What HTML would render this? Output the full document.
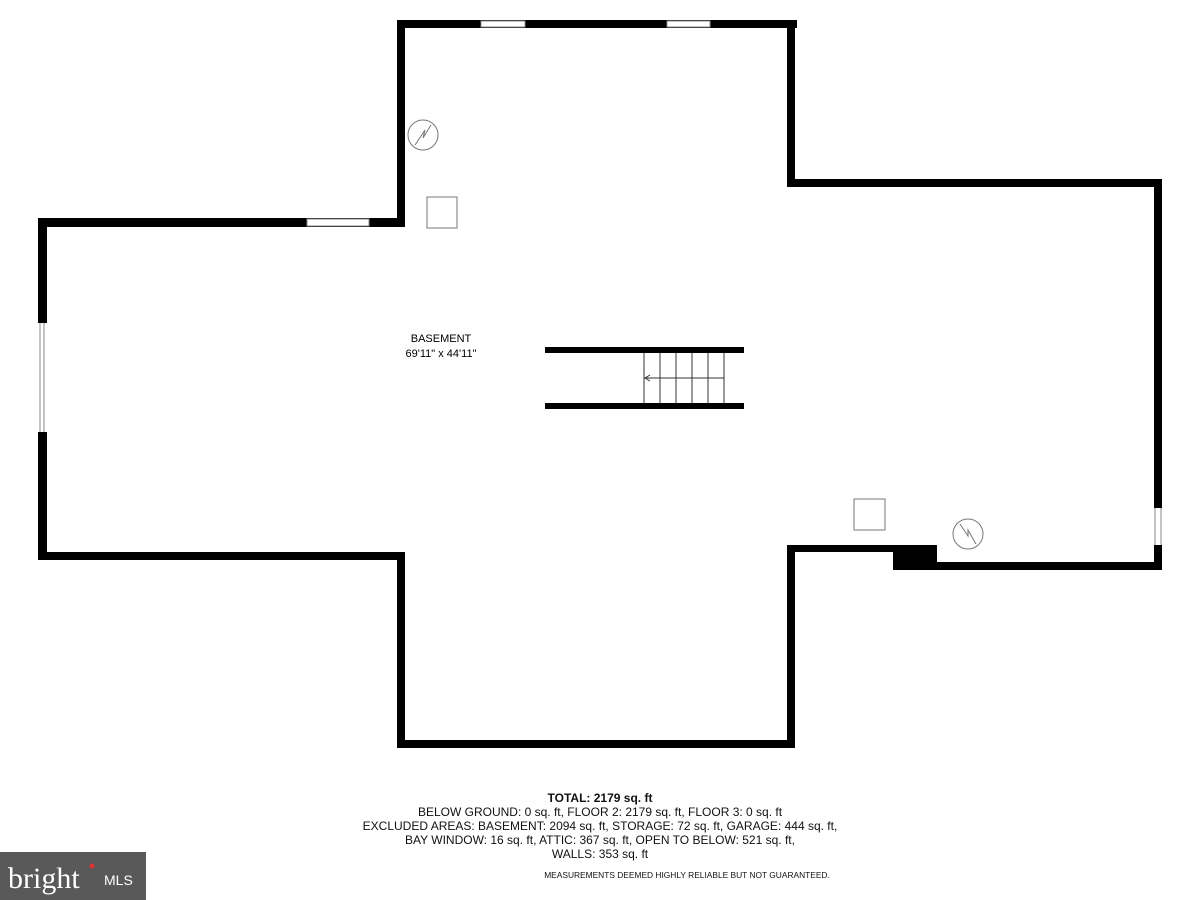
<!DOCTYPE html>
<html><head><style>body{margin:0;background:#fff}svg{display:block}</style></head><body>
<svg width="1200" height="900" xmlns="http://www.w3.org/2000/svg" font-family="Liberation Sans, sans-serif">
<rect width="1200" height="900" fill="#fff"/>
<g fill="#000">
<rect x="397" y="20" width="400" height="8"/>
<rect x="397" y="20" width="8" height="207"/>
<rect x="38" y="218" width="367" height="9"/>
<rect x="38" y="218" width="9" height="105"/>
<rect x="38" y="432" width="9" height="128"/>
<rect x="38" y="552" width="367" height="8"/>
<rect x="397" y="552" width="8" height="196"/>
<rect x="397" y="740" width="398" height="8"/>
<rect x="787" y="545" width="8" height="203"/>
<rect x="787" y="545" width="150" height="7"/>
<rect x="893" y="545" width="44" height="25"/>
<rect x="893" y="562" width="269" height="8"/>
<rect x="1154" y="179" width="8" height="329"/>
<rect x="1154" y="545" width="8" height="25"/>
<rect x="787" y="179" width="375" height="8"/>
<rect x="787" y="20" width="8" height="167"/>
<rect x="545" y="347" width="199" height="6"/>
<rect x="545" y="403" width="199" height="6"/>
</g>
<g fill="#fff" stroke="#888" stroke-width="1">
<rect x="481" y="21" width="44" height="6"/>
<rect x="667" y="21" width="43" height="6"/>
<rect x="307" y="219" width="62" height="7"/>
</g>
<g stroke="#888" fill="none" stroke-width="1">
<line x1="40" y1="323" x2="40" y2="432"/><line x1="44" y1="323" x2="44" y2="432"/>
<line x1="1155" y1="508" x2="1155" y2="545"/><line x1="1161" y1="508" x2="1161" y2="545"/>
</g>
<g stroke="#333" stroke-width="1" fill="none">
<line x1="644" y1="353" x2="644" y2="403"/><line x1="660" y1="353" x2="660" y2="403"/>
<line x1="676" y1="353" x2="676" y2="403"/><line x1="692" y1="353" x2="692" y2="403"/>
<line x1="708" y1="353" x2="708" y2="403"/><line x1="724" y1="353" x2="724" y2="403"/>
<line x1="644" y1="378" x2="724" y2="378"/>
<path d="M650 375 L645 378 L650 381"/>
</g>
<g stroke="#777" stroke-width="1" fill="none">
<circle cx="423" cy="135" r="15"/><path d="M415 145 L425 130 L423 138 L431 125"/>
<rect x="427" y="197" width="30" height="31"/>
<rect x="854" y="499" width="31" height="31"/>
<circle cx="968" cy="534" r="15"/><path d="M960 524 L968 536 L968 530 L976 544"/>
</g>
<text x="441" y="342" font-size="11" text-anchor="middle">BASEMENT</text>
<text x="441" y="357" font-size="11" text-anchor="middle">69'11" x 44'11"</text>
<g font-size="12" text-anchor="middle" fill="#111">
<text x="600" y="802" font-weight="bold">TOTAL: 2179 sq. ft</text>
<text x="600" y="816">BELOW GROUND: 0 sq. ft, FLOOR 2: 2179 sq. ft, FLOOR 3: 0 sq. ft</text>
<text x="600" y="830">EXCLUDED AREAS: BASEMENT: 2094 sq. ft, STORAGE: 72 sq. ft, GARAGE: 444 sq. ft,</text>
<text x="600" y="844">BAY WINDOW: 16 sq. ft, ATTIC: 367 sq. ft, OPEN TO BELOW: 521 sq. ft,</text>
<text x="600" y="858">WALLS: 353 sq. ft</text>
<text x="687" y="878" font-size="8.4">MEASUREMENTS DEEMED HIGHLY RELIABLE BUT NOT GUARANTEED.</text>
</g>
<rect x="0" y="852" width="146" height="48" fill="#595959"/>
<text x="8" y="888" font-family="Liberation Serif, serif" font-size="30" fill="#fff">bright</text>
<text x="104" y="885" font-size="14" fill="#fff">MLS</text>
<circle cx="92" cy="866" r="2.5" fill="#d33"/>
</svg>
</body></html>
